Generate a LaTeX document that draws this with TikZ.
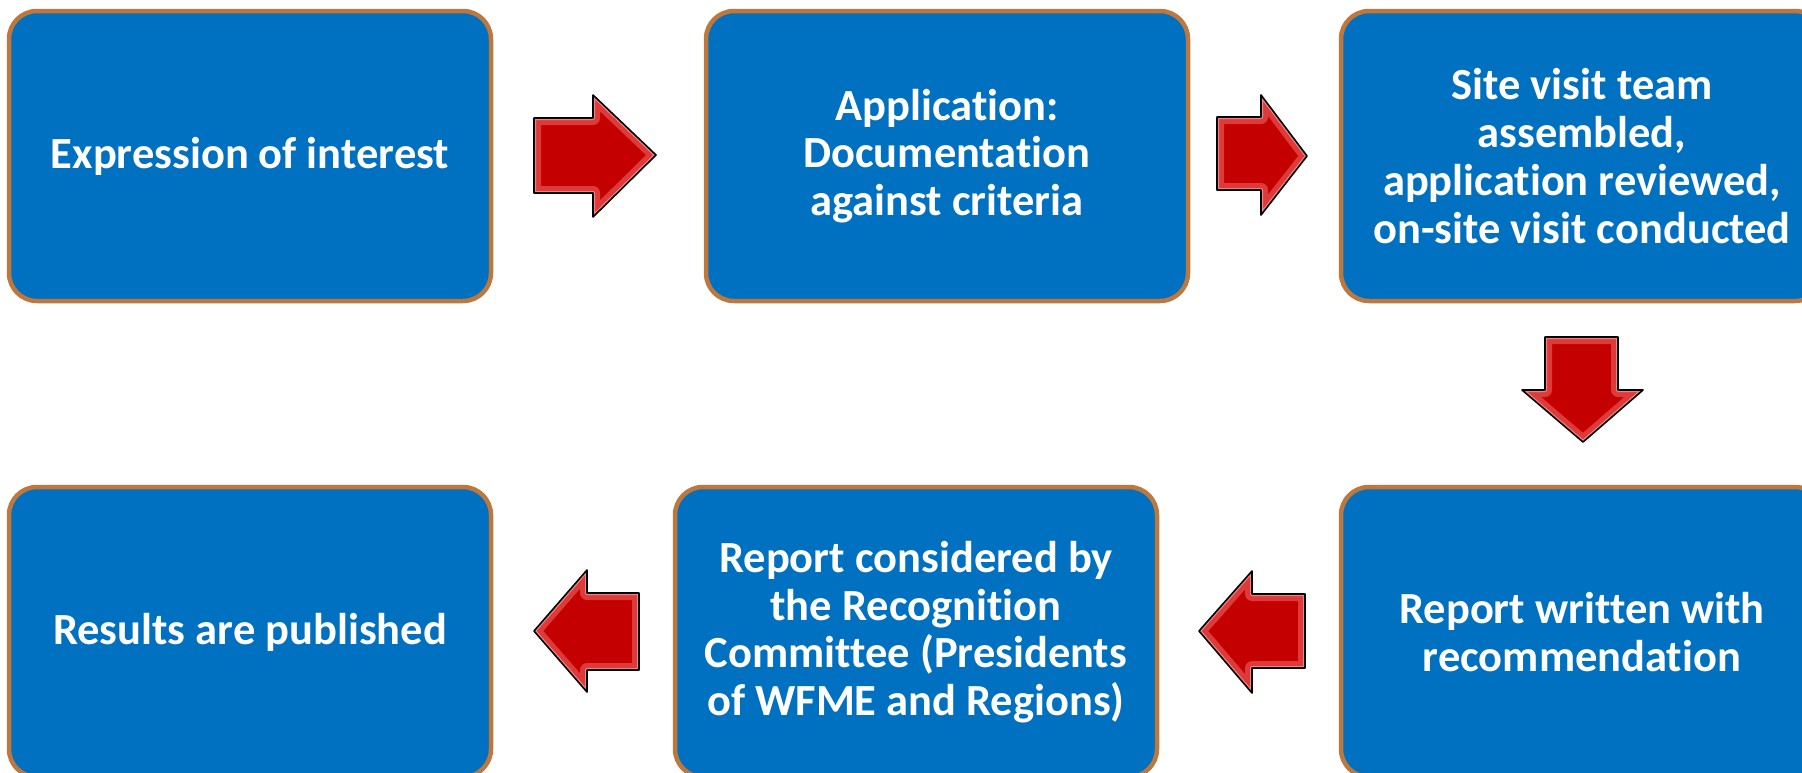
\documentclass[tikz,border=0pt]{standalone}
\usepackage{fontspec}
\setmainfont{Carlito}[Ligatures=NoCommon]
\definecolor{boxblue}{RGB}{0,112,192}
\definecolor{boxbrown}{RGB}{190,120,62}
\definecolor{arrred}{RGB}{196,0,0}
\definecolor{arrband}{RGB}{222,58,58}
\definecolor{arrhi}{RGB}{240,130,130}
\newcommand{\rsarrow}[1]{%
  \begin{scope}
    \clip #1;
    \fill[arrred] #1;
    \draw[arrband, line width=14pt, line join=round] #1;
    \draw[arrhi, line width=4pt, line join=round] #1;
  \end{scope}
  \draw[black, line width=1.6pt, line join=round] #1;}
\tikzset{
  stepbox/.style={draw=boxbrown, line width=4.5pt, fill=boxblue, rounded corners=28pt,
    minimum width=482pt, minimum height=290pt, inner sep=0pt, align=center,
    text=white, font=\bfseries\fontsize{44.5}{47.7}\selectfont}
}
\begin{document}
\begin{tikzpicture}[x=1pt,y=-1pt]
\useasboundingbox (0,0) rectangle (1802,772);
\clip (0,0) rectangle (1802,772);
\node[stepbox] (b1) at (250,156) {Expression of interest};
\node[stepbox] (b2) at (947,156) {Application:\\Documentation\\against criteria};
\node[stepbox] (b3) at (1582,156) {Site visit team\\assembled,\\application reviewed,\\on-site visit conducted};
\node[stepbox] (b6) at (1582,632) {Report written with\\recommendation};
\node[stepbox] (b5) at (916,632) {Report considered by\\the Recognition\\Committee (Presidents\\of WFME and Regions)};
\node[stepbox] (b4) at (250,632) {Results are published};
% block arrows
\rsarrow{(534,118) -- (593,118) -- (593,95) -- (656,155) -- (593,217) -- (593,193) -- (534,193) -- cycle}
\rsarrow{(1217,117) -- (1261,117) -- (1261,95) -- (1307,156) -- (1261,215) -- (1261,190) -- (1217,190) -- cycle}
\rsarrow{(1545,337) -- (1618,337) -- (1618,390) -- (1643,390) -- (1583,442) -- (1522,390) -- (1545,390) -- cycle}
\rsarrow{(1305,594) -- (1252,594) -- (1252,571) -- (1199,631) -- (1252,693) -- (1252,668) -- (1305,668) -- cycle}
\rsarrow{(639,593) -- (587,593) -- (587,570) -- (534,631) -- (587,692) -- (587,670) -- (639,670) -- cycle}
\end{tikzpicture}
\end{document}
